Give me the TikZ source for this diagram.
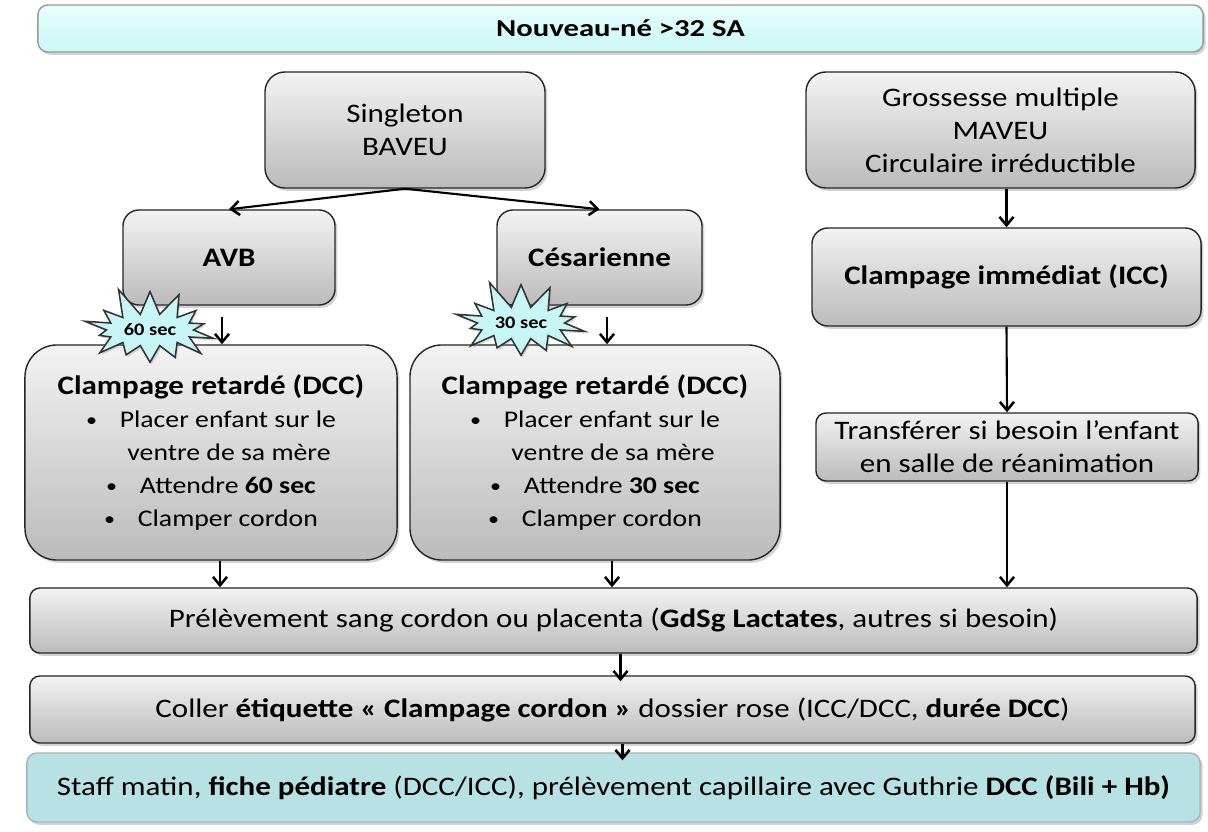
\documentclass[tikz,border=0pt]{standalone}
\usepackage{fontspec}
\setmainfont{Carlito}[FakeStretch=1.16]
\usetikzlibrary{shapes.symbols,shadows,arrows.meta}
\definecolor{boxtop}{HTML}{F3F3F3}
\definecolor{boxbot}{HTML}{BBBBBB}
\definecolor{cyantop}{HTML}{E8FEFE}
\definecolor{cyanbot}{HTML}{CCF7F7}
\definecolor{teal}{HTML}{B8E1E4}
\definecolor{burst}{HTML}{C8F6F6}
\newcommand{\blt}{\makebox[24pt][l]{\raisebox{0.12ex}{\scalebox{0.8}{\textbullet}}}}
\newcommand{\bfs}{\fontsize{17}{23.5}\selectfont}
\tikzset{
  gbox/.style={draw=black!85, line width=1pt, rounded corners=#1, top color=boxtop, bottom color=boxbot,
    drop shadow={opacity=0.35, shadow xshift=0.06cm, shadow yshift=-0.07cm},
    align=center, inner sep=0pt, font=\fontsize{19}{23.5}\selectfont},
  gbox/.default=0.4cm,
  arr/.style={-{Straight Barb[length=6pt,width=10pt,line width=1.8pt]}, line width=1.5pt},
  burstnode/.style={starburst, starburst points=14, starburst point height=0.75cm, random starburst=11,
    draw=black!80, line width=1.1pt, fill=burst, font=\bfseries\fontsize{12.5}{14}\selectfont,
    drop shadow={opacity=0.3, shadow xshift=0.04cm, shadow yshift=-0.05cm}}
}
\begin{document}
\begin{tikzpicture}[x=0.025cm,y=-0.025cm]
\useasboundingbox (0,0) rectangle (1208,832);
% top
\node[gbox=0.25cm, top color=cyantop, bottom color=cyanbot, draw=black!40, minimum width=29.125cm, minimum height=1.175cm,
  font=\bfseries\fontsize{18.8}{20}\selectfont] (top) at (620.5,28.5) {\scalebox{1}[0.92]{Nouveau-né >32 SA}};
% second row
\node[gbox=0.5cm, minimum width=7cm, minimum height=2.9cm] (single) at (405,130) {Singleton\\BAVEU};
\node[gbox=0.5cm, minimum width=9.725cm, minimum height=2.9cm] (gross) at (1000.5,130) {Grossesse multiple\\MAVEU\\Circulaire irréductible};
% third row
\node[gbox, minimum width=5.3cm, minimum height=2.375cm, font=\bfseries\fontsize{19}{23.5}\selectfont] (avb) at (229,257.5) {AVB};
\node[gbox, minimum width=5.125cm, minimum height=2.375cm, font=\bfseries\fontsize{19}{23.5}\selectfont] (ces) at (599.5,257.5) {Césarienne};
\node[gbox, minimum width=9.725cm, minimum height=2.45cm, font=\bfseries\fontsize{19}{23.5}\selectfont] (icc) at (1006.5,277) {Clampage immédiat (ICC)};
% DCC boxes
\node[gbox=0.8cm, minimum width=9.3cm, minimum height=5.375cm] (dccL) at (211,452.5)
  {\textbf{Clampage retardé (DCC)}\\
   \bfs\blt Placer enfant sur le\\
   \bfs\hspace*{25.6pt}ventre de sa mère\\
   \bfs\blt Attendre \textbf{60 sec}\\
   \bfs\blt Clamper cordon};
\node[gbox=0.8cm, minimum width=9.25cm, minimum height=5.375cm] (dccR) at (595,452.5)
  {\textbf{Clampage retardé (DCC)}\\
   \bfs\blt Placer enfant sur le\\
   \bfs\hspace*{25.6pt}ventre de sa mère\\
   \bfs\blt Attendre \textbf{30 sec}\\
   \bfs\blt Clamper cordon};
\node[gbox=0.25cm, minimum width=9.55cm, minimum height=1.7cm] (transf) at (1007,447)
  {Transférer si besoin l’enfant\\en salle de réanimation};
% bottom rows
\node[gbox=0.25cm, minimum width=29.175cm, minimum height=1.625cm] (prel) at (613.5,620.5)
  {Prélèvement sang cordon ou placenta (\textbf{GdSg Lactates}, autres si besoin)};
\node[gbox=0.25cm, minimum width=29.125cm, minimum height=1.675cm] (coller) at (612.5,709.5)
  {Coller \textbf{étiquette « Clampage cordon »} dossier rose (ICC/DCC, \textbf{durée DCC})};
\node[gbox=0.25cm, top color=teal, bottom color=teal, draw=black!30, minimum width=29.325cm, minimum height=1.725cm] (staff) at (613.5,787.5)
  {Staff matin, \textbf{fiche pédiatre} (DCC/ICC), prélèvement capillaire avec Guthrie \textbf{DCC (Bili + Hb)}};
% bursts
\node[burstnode, minimum width=3.4cm, minimum height=2.3cm] (b60) at (150,330) {60 sec};
\node[burstnode, minimum width=3.3cm, minimum height=2.3cm] (b30) at (521,323) {30 sec};
% arrows
\coordinate (a1) at (222,317);
\coordinate (a2) at (607,317);
\draw[arr] (single.south) -- (avb.north);
\draw[arr] (single.south) -- (ces.north);
\draw[arr] (icc.north |- gross.south) -- (icc.north);
\draw[arr] (a1) -- (a1 |- dccL.north);
\draw[arr] (a2) -- (a2 |- dccR.north);
\draw[arr] (icc.south) -- (transf.north);
\draw[arr] (transf.south) -- (transf.south |- prel.north);
\draw[arr] ([xshift=0.225cm]dccL.south) -- ([xshift=0.225cm]dccL.south |- prel.north);
\draw[arr] ([xshift=0.425cm]dccR.south) -- ([xshift=0.425cm]dccR.south |- prel.north);
\draw[arr] ([xshift=0.175cm]prel.south) -- ([xshift=0.175cm,yshift=-0.15cm]prel.south |- coller.north);
\draw[arr] ([xshift=0.25cm]coller.south) -- ([xshift=0.25cm,yshift=-0.2cm]coller.south |- staff.north);
\end{tikzpicture}
\end{document}
